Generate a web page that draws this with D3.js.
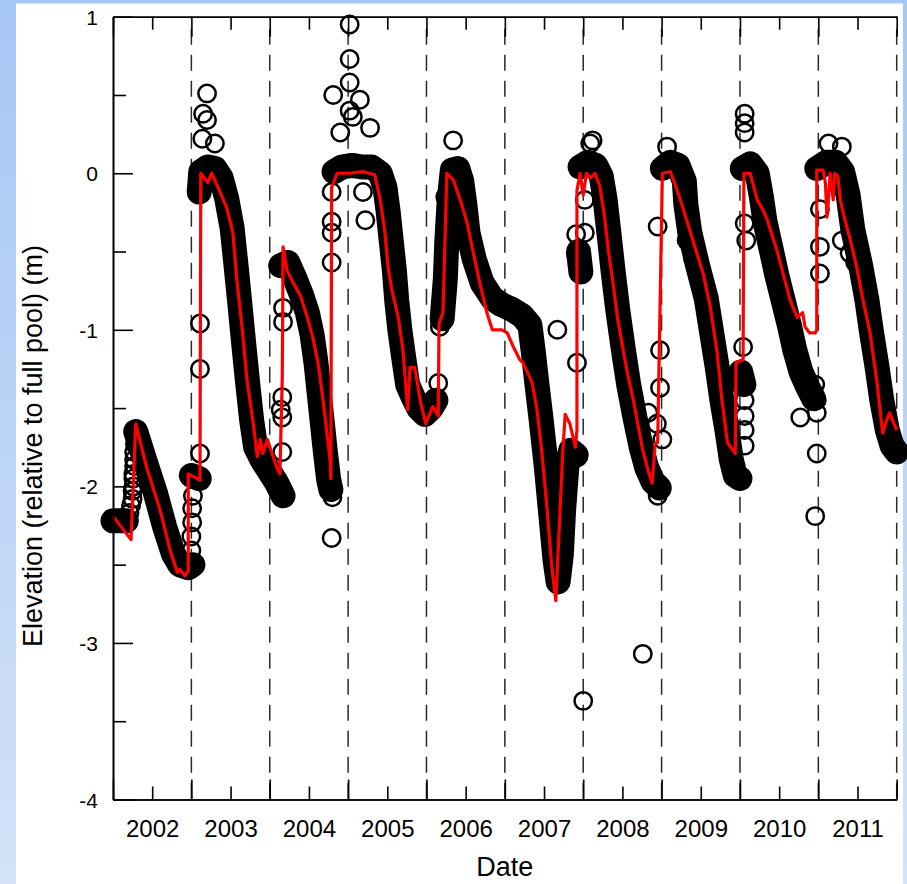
<!DOCTYPE html>
<html>
<head>
<meta charset="utf-8">
<script src="https://cdn.jsdelivr.net/npm/d3@7"></script>
<style>
  html, body { margin: 0; padding: 0; background: #fff; }
  svg { display: block; }
  text { font-family: "Liberation Sans", Arial, sans-serif; fill: #000; }
</style>
</head>
<body>
<svg id="chart" width="907" height="884"></svg>
<script>
// ---- Data: reservoir elevation relative to full pool (m), by decimal year ----

// Year labels on the date axis
const yearLabels = [2002, 2003, 2004, 2005, 2006, 2007, 2008, 2009, 2010, 2011];
const elevationTicks = [1, 0, -1, -2, -3, -4];

// Observed daily elevations, grouped into continuous runs (dense daily records)
const obs2002a = [[2002.00,-2.22],[2002.17,-2.22]];
const obs2002b = [[2002.29,-1.65],[2002.41,-1.84],[2002.54,-2.04],[2002.66,-2.26],[2002.77,-2.43],
                  [2002.85,-2.50],[2002.96,-2.52],[2003.02,-2.50]];
const obs2002c = [[2003.00,-1.93],[2003.10,-1.95]];
const obs2003  = [[2003.10,-0.12],[2003.12,0.01],[2003.21,0.04],[2003.30,0.03],[2003.38,-0.03],
                  [2003.45,-0.16],[2003.52,-0.35],[2003.57,-0.59],[2003.62,-0.84],[2003.67,-1.10],
                  [2003.72,-1.35],[2003.77,-1.58],[2003.82,-1.75],[2003.90,-1.83],[2003.99,-1.90],
                  [2004.08,-1.97],[2004.17,-2.06]];
const obs2004  = [[2004.14,-0.59],[2004.23,-0.57],[2004.32,-0.67],[2004.40,-0.77],[2004.48,-0.89],
                  [2004.54,-1.03],[2004.59,-1.21],[2004.63,-1.40],[2004.67,-1.59],[2004.71,-1.78],
                  [2004.75,-1.95],[2004.78,-2.02]];
const obs2005  = [[2004.82,0.01],[2004.92,0.04],[2005.05,0.05],[2005.18,0.04],[2005.30,0.04],
                  [2005.41,0.00],[2005.47,-0.09],[2005.51,-0.24],[2005.55,-0.43],[2005.59,-0.62],
                  [2005.62,-0.81],[2005.66,-1.00],[2005.71,-1.18],[2005.76,-1.35],[2005.83,-1.43],
                  [2005.90,-1.50],[2005.98,-1.54],[2006.06,-1.50],[2006.12,-1.45]];
const obs2006  = [[2006.20,-0.93],[2006.24,-0.68],[2006.26,-0.43],[2006.29,-0.17],[2006.33,0.02],
                  [2006.40,0.03],[2006.45,-0.05],[2006.49,-0.20],[2006.53,-0.38],[2006.61,-0.55],
                  [2006.71,-0.70],[2006.84,-0.80],[2006.96,-0.84],[2007.09,-0.87],[2007.22,-0.91],
                  [2007.32,-0.97],[2007.36,-1.13],[2007.41,-1.35],[2007.46,-1.56],[2007.53,-1.88],
                  [2007.59,-2.20],[2007.64,-2.47],[2007.68,-2.61],[2007.72,-2.44],[2007.75,-2.15],
                  [2007.79,-1.88],[2007.84,-1.77],[2007.91,-1.80]];
const obs2008a = [[2007.94,-0.50],[2007.97,-0.63]];
const obs2008  = [[2007.96,0.04],[2008.06,0.07],[2008.16,0.05],[2008.23,-0.02],[2008.28,-0.17],
                  [2008.33,-0.39],[2008.38,-0.62],[2008.44,-0.87],[2008.51,-1.12],[2008.58,-1.35],
                  [2008.66,-1.56],[2008.74,-1.75],[2008.81,-1.88],[2008.89,-1.97],[2008.97,-2.01]];
const obs2009  = [[2009.01,0.03],[2009.11,0.07],[2009.21,0.05],[2009.29,-0.05],[2009.31,-0.20],
                  [2009.36,-0.38],[2009.46,-0.59],[2009.57,-0.80],[2009.64,-1.02],[2009.71,-1.24],
                  [2009.77,-1.45],[2009.84,-1.66],[2009.89,-1.83],[2009.94,-1.93],[2010.00,-1.95]];
const obs2010a = [[2010.01,-1.27],[2010.05,-1.35]];
const obs2010  = [[2010.03,0.03],[2010.13,0.06],[2010.22,0.00],[2010.27,-0.14],[2010.32,-0.31],
                  [2010.40,-0.49],[2010.47,-0.65],[2010.55,-0.81],[2010.63,-0.97],[2010.70,-1.13],
                  [2010.78,-1.27],[2010.87,-1.37],[2010.94,-1.44]];
const obs2011  = [[2010.98,0.03],[2011.10,0.07],[2011.22,0.07],[2011.31,0.01],[2011.38,-0.14],
                  [2011.44,-0.36],[2011.54,-0.59],[2011.62,-0.81],[2011.68,-1.02],[2011.75,-1.24],
                  [2011.81,-1.45],[2011.88,-1.64],[2011.94,-1.74],[2012.00,-1.78]];

// Observed days during rapid fills and isolated readings
const obsIsolated = [
  [2002.21,-2.17],[2002.23,-2.12],[2002.25,-2.08],[2002.25,-2.03],[2002.26,-2.00],[2002.26,-1.95],
  [2002.26,-1.92],[2002.27,-1.87],[2002.27,-1.83],[2002.27,-1.78],[2002.28,-1.73],
  [2003.00,-2.41],[2003.00,-2.32],[2003.01,-2.23],[2003.01,-2.14],[2003.02,-2.06],
  [2003.11,-1.79],[2003.11,-1.25],[2003.11,-0.96],
  [2003.20,0.51],[2003.15,0.38],[2003.20,0.34],[2003.14,0.22],[2003.30,0.19],
  [2004.16,-1.78],[2004.16,-1.56],[2004.14,-1.51],[2004.16,-1.43],[2004.17,-0.95],[2004.17,-0.86],
  [2004.79,-2.33],[2004.80,-2.07],
  [2004.79,-0.57],[2004.79,-0.38],[2004.79,-0.31],[2004.79,-0.12],
  [2005.02,0.95],[2005.02,0.73],[2005.02,0.58],[2004.81,0.50],[2005.15,0.47],[2005.02,0.40],
  [2005.28,0.29],[2004.90,0.26],[2005.06,0.36],[2005.19,-0.12],[2005.22,-0.30],
  [2006.15,-1.34],[2006.17,-0.98],[2006.26,-0.46],[2006.26,-0.38],[2006.24,-0.15],[2006.34,0.21],
  [2007.67,-1.00],[2007.92,-1.21],[2008.00,-3.37],[2007.91,-0.52],[2007.91,-0.39],
  [2008.02,-0.17],[2008.02,-0.38],[2008.09,0.19],[2008.12,0.21],
  [2008.95,-0.34],[2008.98,-1.13],[2008.98,-1.37],[2008.83,-1.53],[2008.94,-1.60],[2009.01,-1.70],
  [2008.95,-2.06],[2008.76,-3.07],
  [2009.07,0.17],[2009.32,-0.43],[2009.40,-0.54],
  [2010.06,-1.45],[2010.06,-1.55],[2010.06,-1.64],[2010.06,-1.74],[2010.04,-1.11],
  [2010.06,0.38],[2010.06,0.32],[2010.06,0.26],[2010.06,-0.32],[2010.08,-0.43],
  [2010.77,-1.56],[2010.98,-1.53],[2010.98,-1.79],[2010.96,-2.19],[2010.96,-1.35],[2010.98,-1.45],
  [2011.02,-0.23],[2011.02,-0.47],[2011.02,-0.64],[2011.30,-0.43],[2011.40,-0.51],[2011.47,-0.57],
  [2011.13,0.19],[2011.30,0.17]
];

// Modelled elevation (red line)
const modelLevels = [
  [2002.00,-2.19],[2002.23,-2.34],[2002.29,-1.60],[2002.43,-1.88],[2002.60,-2.15],[2002.73,-2.41],
  [2002.82,-2.55],[2002.85,-2.53],[2002.92,-2.57],[2002.96,-2.54],[2002.96,-1.92],[2003.11,-1.96],
  [2003.12,0.00],[2003.21,-0.06],[2003.26,0.00],[2003.34,-0.09],[2003.45,-0.22],[2003.53,-0.38],
  [2003.58,-0.68],[2003.65,-1.00],[2003.71,-1.32],[2003.79,-1.60],[2003.84,-1.81],[2003.88,-1.70],
  [2003.91,-1.79],[2003.97,-1.70],[2004.03,-1.79],[2004.09,-1.88],[2004.13,-1.92],[2004.16,-1.30],
  [2004.17,-0.47],[2004.22,-0.62],[2004.30,-0.70],[2004.39,-0.78],[2004.48,-0.92],[2004.55,-1.05],
  [2004.62,-1.22],[2004.68,-1.45],[2004.73,-1.66],[2004.77,-1.83],[2004.78,-1.95],[2004.79,-0.09],
  [2004.86,0.00],[2005.02,0.00],[2005.19,0.01],[2005.34,-0.01],[2005.41,-0.17],[2005.47,-0.38],
  [2005.51,-0.60],[2005.56,-0.75],[2005.64,-0.92],[2005.70,-1.13],[2005.76,-1.51],[2005.79,-1.24],
  [2005.85,-1.24],[2005.92,-1.45],[2005.99,-1.60],[2006.08,-1.49],[2006.15,-1.55],[2006.16,-0.96],
  [2006.21,-0.89],[2006.26,0.00],[2006.34,-0.04],[2006.43,-0.17],[2006.52,-0.32],[2006.59,-0.49],
  [2006.68,-0.70],[2006.77,-0.89],[2006.84,-1.00],[2006.96,-1.00],[2007.03,-1.02],[2007.10,-1.10],
  [2007.19,-1.19],[2007.23,-1.21],[2007.35,-1.34],[2007.41,-1.51],[2007.47,-1.77],[2007.54,-2.15],
  [2007.60,-2.52],[2007.65,-2.73],[2007.70,-2.20],[2007.74,-1.77],[2007.77,-1.54],[2007.83,-1.60],
  [2007.90,-1.75],[2007.92,-1.64],[2007.92,-0.11],[2007.96,0.00],[2008.00,-0.14],[2008.04,0.00],
  [2008.09,-0.03],[2008.15,0.00],[2008.21,-0.08],[2008.27,-0.27],[2008.32,-0.49],[2008.38,-0.70],
  [2008.44,-0.93],[2008.51,-1.13],[2008.57,-1.29],[2008.64,-1.45],[2008.70,-1.61],[2008.76,-1.77],
  [2008.83,-1.90],[2008.88,-1.98],[2008.92,-1.72],[2008.95,-1.72],[2008.98,-0.86],[2009.01,0.00],
  [2009.11,0.01],[2009.15,-0.04],[2009.24,-0.17],[2009.40,-0.43],[2009.53,-0.64],[2009.62,-0.85],
  [2009.71,-1.15],[2009.77,-1.45],[2009.84,-1.72],[2009.94,-1.79],[2009.95,-1.21],[2010.04,-1.19],
  [2010.05,0.00],[2010.13,0.00],[2010.22,-0.17],[2010.29,-0.23],[2010.35,-0.30],[2010.47,-0.49],
  [2010.55,-0.64],[2010.64,-0.81],[2010.73,-0.92],[2010.80,-0.89],[2010.83,-0.98],[2010.89,-1.02],
  [2010.96,-1.02],[2010.98,-1.00],[2010.98,0.02],[2011.06,0.02],[2011.09,-0.06],[2011.11,-0.28],
  [2011.12,-0.24],[2011.15,0.00],[2011.19,-0.17],[2011.21,0.00],[2011.25,-0.02],[2011.28,-0.17],
  [2011.32,-0.26],[2011.41,-0.43],[2011.49,-0.60],[2011.57,-0.81],[2011.66,-1.02],[2011.75,-1.34],
  [2011.82,-1.66],[2011.87,-1.58],[2011.91,-1.53],[2011.95,-1.58],[2012.00,-1.64]
];

const obsRuns = [obs2002a, obs2002b, obs2002c, obs2003, obs2004, obs2005, obs2006,
                 obs2008a, obs2008, obs2009, obs2010a, obs2010, obs2011];

// ---- Layout ----
const W = 907, H = 884;
const plotLeft = 113, plotRight = 896.7, plotTop = 16.7, plotBottom = 799.5;
const FONT = '"Liberation Sans", Arial, sans-serif';

const svg = d3.select("#chart");

// Slide background: blue gradient with a white panel
const grad = svg.append("defs").append("linearGradient")
  .attr("id", "slideBg").attr("x1", 0).attr("y1", 0).attr("x2", 0).attr("y2", 1);
grad.append("stop").attr("offset", "0%").attr("stop-color", "#a5c7f4");
grad.append("stop").attr("offset", "100%").attr("stop-color", "#d3e2f8");
svg.append("rect").attr("width", W).attr("height", H).attr("fill", "url(#slideBg)");
svg.append("rect").attr("x", 16).attr("y", 3.5).attr("width", 887).attr("height", H)
  .attr("fill", "#fff");

const x = d3.scaleLinear().domain([2002, 2012]).range([plotLeft, plotRight]);
const y = d3.scaleLinear().domain([-4, 1]).range([plotBottom, plotTop]);

// Dashed year boundaries
svg.append("g").selectAll("line")
  .data(d3.range(2003, 2013))
  .join("line")
  .attr("x1", d => x(d)).attr("x2", d => x(d))
  .attr("y1", plotTop).attr("y2", plotBottom)
  .attr("stroke", "#2a2a2a").attr("stroke-width", 1.5)
  .attr("stroke-dasharray", "16,10").attr("stroke-dashoffset", 14);

// Observed record: dense daily markers merge into a solid band
const line = d3.line().x(d => x(d[0])).y(d => y(d[1]));
svg.append("g").selectAll("path")
  .data(obsRuns)
  .join("path")
  .attr("d", line)
  .attr("fill", "none").attr("stroke", "#000").attr("stroke-width", 25)
  .attr("stroke-linecap", "round").attr("stroke-linejoin", "round");

// Observed markers (open circles)
const allObs = obsRuns.flat().concat(obsIsolated);
svg.append("g").selectAll("circle")
  .data(allObs)
  .join("circle")
  .attr("cx", d => x(d[0])).attr("cy", d => y(d[1])).attr("r", 8.7)
  .attr("fill", "none").attr("stroke", "#000").attr("stroke-width", 2.5);

// Modelled elevation
svg.append("path")
  .datum(modelLevels)
  .attr("d", line)
  .attr("fill", "none").attr("stroke", "#ff0000").attr("stroke-width", 3.2)
  .attr("stroke-linejoin", "round");

// ---- Axes ----
function styleAxis(g) {
  g.selectAll(".domain").attr("stroke", "#000").attr("stroke-width", 1.6);
  g.selectAll(".tick line").attr("stroke", "#000").attr("stroke-width", 1.6);
  g.selectAll("text").attr("font-family", FONT).attr("fill", "#000");
}

// Bottom: major ticks at year boundaries, minor ticks mid-year carrying the labels
svg.append("g").attr("transform", `translate(0,${plotBottom})`)
  .call(d3.axisBottom(x).tickValues(d3.range(2002, 2013)).tickSizeInner(-20).tickSizeOuter(0).tickFormat(""))
  .call(styleAxis);
svg.append("g").attr("transform", `translate(0,${plotBottom})`)
  .call(d3.axisBottom(x).tickValues(yearLabels.map(v => v + 0.5))
    .tickSizeInner(-13).tickSizeOuter(0).tickPadding(20.5)
    .tickFormat(d => String(Math.floor(d))))
  .call(styleAxis)
  .call(g => g.selectAll("text").attr("font-size", 24));

// Top
svg.append("g").attr("transform", `translate(0,${plotTop})`)
  .call(d3.axisTop(x).tickValues(d3.range(2002, 2013)).tickSizeInner(-20).tickSizeOuter(0).tickFormat(""))
  .call(styleAxis);
svg.append("g").attr("transform", `translate(0,${plotTop})`)
  .call(d3.axisTop(x).tickValues(yearLabels.map(v => v + 0.5)).tickSizeInner(-13).tickSizeOuter(0).tickFormat(""))
  .call(styleAxis);

// Left (labels use a plain hyphen for negatives)
svg.append("g").attr("transform", `translate(${plotLeft},0)`)
  .call(d3.axisLeft(y).tickValues(elevationTicks).tickSizeInner(-20).tickSizeOuter(0)
    .tickPadding(15).tickFormat(d => String(d)))
  .call(styleAxis)
  .call(g => g.selectAll("text").attr("font-size", 21).attr("dy", "0.36em"));
svg.append("g").attr("transform", `translate(${plotLeft},0)`)
  .call(d3.axisLeft(y).tickValues(d3.range(-3.5, 1, 1)).tickSizeInner(-13).tickSizeOuter(0).tickFormat(""))
  .call(styleAxis);

// Axis titles
svg.append("text")
  .attr("x", (plotLeft + plotRight) / 2).attr("y", 876)
  .attr("text-anchor", "middle").attr("font-size", 27)
  .text("Date");
svg.append("text")
  .attr("transform", "translate(42,446) rotate(-90)")
  .attr("text-anchor", "middle").attr("font-size", 27)
  .text("Elevation (relative to full pool) (m)");
</script>
</body>
</html>
